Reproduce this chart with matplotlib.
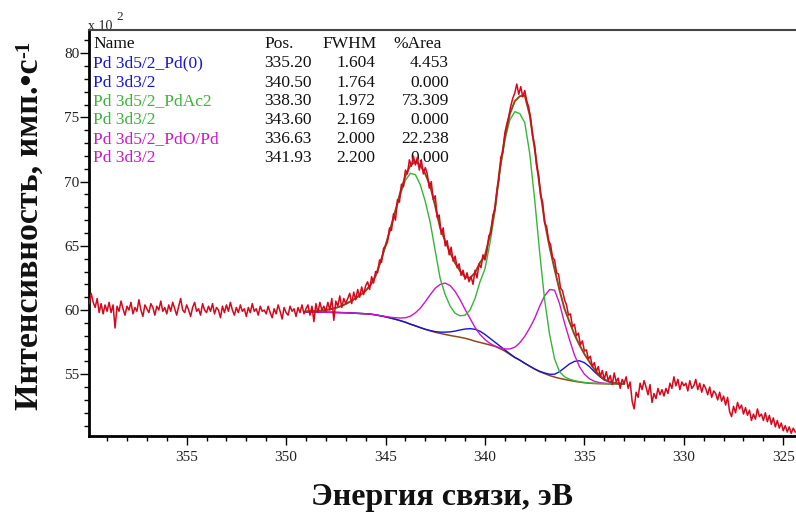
import numpy as np
import matplotlib
matplotlib.use("Agg")
import matplotlib.pyplot as plt
from matplotlib.ticker import MultipleLocator, FormatStrFormatter

plt.rcParams['font.family'] = ['Liberation Serif', 'DejaVu Serif']

# ---------------- data (intensity in units of 10^2 counts/s) ----------------
energy = np.round(np.linspace(359.9, 324.4, 356), 2)
counts = [
    60.5, 61.3, 60.6, 60.2, 60.9, 59.8, 60.5, 59.7, 60.4, 59.9,
    60.6, 59.8, 60.4, 58.6, 60.3, 59.9, 60.7, 60.1, 59.6, 60.3,
    60.0, 60.6, 59.7, 60.2, 59.9, 60.8, 60.0, 59.5, 60.4, 60.1,
    59.8, 60.5, 60.2, 59.6, 60.3, 60.0, 60.7, 59.9, 60.2, 59.7,
    60.4, 59.9, 60.6, 60.1, 59.6, 60.3, 60.9, 60.0, 59.8, 60.4,
    60.0, 59.5, 60.2, 60.6, 59.9, 60.1, 59.6, 60.5, 60.0, 59.8,
    60.3, 59.9, 60.5, 59.7, 60.2, 60.0, 59.4, 60.3, 59.8, 60.4,
    59.9, 60.6, 60.0, 59.6, 60.2, 59.8, 60.4, 59.9, 60.1, 59.5,
    60.2, 59.8, 60.5, 59.9, 60.1, 59.6, 60.3, 59.9, 60.0, 59.7,
    60.3, 59.8, 59.4, 60.1, 59.7, 60.4, 59.9, 59.3, 60.2, 59.8,
    59.6, 60.3, 59.9, 60.1, 59.5, 60.2, 59.8, 60.4, 59.7, 60.1,
    60.4, 59.6, 60.3, 59.1, 60.5, 59.8, 60.6, 60.0, 60.3, 59.9,
    60.6, 60.0, 60.9, 59.2, 60.7, 60.3, 61.1, 60.2, 60.9, 60.5,
    60.9, 61.3, 60.5, 61.4, 60.8, 61.6, 61.0, 61.8, 61.2, 61.9,
    62.2, 61.6, 62.6, 62.1, 63.0, 62.9, 63.9, 63.7, 64.8, 65.0,
    65.3, 66.4, 66.2, 67.5, 67.0, 68.6, 68.4, 69.8, 69.6, 70.9,
    70.6, 71.7, 71.2, 72.0, 71.3, 71.9, 70.9, 71.7, 70.6, 71.1,
    70.6, 69.5, 70.0, 68.6, 68.9, 67.2, 67.4, 65.9, 66.4, 65.0,
    65.4, 64.3, 64.9, 63.8, 64.2, 63.3, 63.6, 62.7, 63.1, 62.4,
    62.9, 62.2, 62.6, 62.0, 63.1, 62.5, 63.6, 63.3, 64.3, 63.9,
    64.6, 65.8, 66.0, 67.4, 67.8, 69.3, 70.2, 71.9, 72.3, 73.8,
    74.5, 75.1, 75.9, 76.5, 76.9, 77.6, 76.8, 77.4, 76.6, 77.1,
    76.3, 75.8, 74.9, 73.5, 72.8, 71.2, 70.5, 68.9, 68.4, 66.8,
    66.5, 65.4, 65.1, 64.1, 63.9, 62.9, 62.8, 61.7, 61.5, 60.8,
    60.4, 59.6, 59.7, 58.7, 58.9, 58.0, 58.2, 57.3, 57.6, 56.8,
    56.9, 56.2, 56.4, 55.6, 55.9, 55.2, 55.6, 54.8, 55.3, 54.6,
    55.2, 54.5, 54.9, 54.2, 55.1, 54.4, 54.7, 53.9, 54.6, 54.3,
    54.8, 53.9, 54.4, 52.9, 52.3, 53.6, 53.2, 54.3, 53.8, 54.5,
    54.0, 53.4, 54.2, 52.8, 53.5, 53.1, 53.9, 53.4, 53.8, 53.3,
    53.9, 53.5, 54.3, 53.9, 54.8, 54.1, 54.6, 53.8, 54.4, 54.1,
    54.3, 53.7, 54.5, 53.9, 54.1, 54.6, 53.8, 54.3, 53.6, 54.2,
    53.9, 53.4, 54.0, 53.2, 53.7, 53.5, 53.0, 53.6, 52.9, 53.3,
    52.6, 53.2, 52.1, 51.7, 52.5, 52.0, 52.8, 52.3, 52.6, 51.9,
    52.4, 51.8, 52.2, 51.4, 51.9, 51.5, 52.3, 51.7, 51.9, 51.4,
    52.0, 51.3, 51.8, 51.1, 51.6, 50.9, 51.4, 50.8, 51.2, 50.6,
    51.0, 50.5, 50.9, 50.4, 50.8, 50.5,
]

# fitted components (each including the background), 349 -> 333 eV
energy_fit = np.round(np.linspace(349.0, 333.0, 65), 2)
background = [
    59.85, 59.85, 59.85, 59.84, 59.83, 59.82, 59.81, 59.80, 59.79, 59.77,
    59.75, 59.73, 59.71, 59.68, 59.62, 59.55, 59.47, 59.38, 59.28, 59.17,
    59.05, 58.90, 58.77, 58.63, 58.50, 58.38, 58.27, 58.18, 58.10, 58.02,
    57.95, 57.88, 57.80, 57.70, 57.57, 57.48, 57.38, 57.28, 57.17, 57.00,
    56.80, 56.55, 56.30, 56.10, 55.85, 55.62, 55.40, 55.20, 55.05, 54.90,
    54.78, 54.68, 54.60, 54.52, 54.45, 54.39, 54.34, 54.30, 54.28, 54.27,
    54.26, 54.25, 54.25, 54.25, 54.25,
]
pd_ac2 = [
    59.90, 59.90, 59.92, 59.95, 60.00, 60.07, 60.17, 60.30, 60.47, 60.68,
    60.92, 61.20, 61.50, 61.95, 62.65, 63.75, 65.00, 66.30, 67.65, 69.00,
    70.10, 70.65, 70.55, 69.75, 68.45, 66.80, 64.60, 62.45, 61.20, 60.30,
    59.75, 59.55, 59.60, 60.00, 60.90, 62.20, 63.20, 65.20, 67.60, 70.80,
    73.20, 74.80, 75.45, 75.30, 74.60, 72.20, 68.60, 64.50, 60.80, 58.10,
    56.20, 55.20, 54.80, 54.62, 54.50, 54.42, 54.36, 54.32, 54.29, 54.28,
    54.27, 54.26, 54.25, 54.25, 54.25,
]
pdo_pd = [
    59.85, 59.85, 59.85, 59.84, 59.83, 59.82, 59.81, 59.80, 59.79, 59.77,
    59.75, 59.73, 59.71, 59.68, 59.63, 59.56, 59.50, 59.44, 59.40, 59.38,
    59.40, 59.52, 59.78, 60.15, 60.65, 61.20, 61.70, 62.00, 62.10, 61.90,
    61.45, 60.80, 60.05, 59.35, 58.65, 58.10, 57.70, 57.40, 57.20, 57.05,
    56.97, 56.97, 57.10, 57.45, 57.95, 58.60, 59.35, 60.30, 61.10, 61.60,
    61.55, 60.50, 59.00, 57.70, 56.50, 55.60, 55.00, 54.65, 54.45, 54.35,
    54.30, 54.27, 54.26, 54.25, 54.25,
]
pd0 = [
    59.85, 59.85, 59.85, 59.84, 59.83, 59.82, 59.81, 59.80, 59.79, 59.77,
    59.75, 59.73, 59.71, 59.68, 59.62, 59.55, 59.47, 59.38, 59.28, 59.17,
    59.05, 58.90, 58.77, 58.63, 58.50, 58.40, 58.32, 58.28, 58.28, 58.30,
    58.36, 58.45, 58.52, 58.55, 58.50, 58.35, 58.10, 57.80, 57.50, 57.20,
    56.90, 56.60, 56.32, 56.10, 55.86, 55.63, 55.41, 55.23, 55.10, 55.00,
    55.00, 55.20, 55.50, 55.80, 56.00, 56.05, 55.90, 55.60, 55.20, 54.85,
    54.55, 54.40, 54.32, 54.28, 54.26,
]

# fit table
names = ["Pd 3d5/2_Pd(0)", "Pd 3d3/2", "Pd 3d5/2_PdAc2", "Pd 3d3/2",
         "Pd 3d5/2_PdO/Pd", "Pd 3d3/2"]
positions = ["335.20", "340.50", "338.30", "343.60", "336.63", "341.93"]
fwhms = ["1.604", "1.764", "1.972", "2.169", "2.000", "2.200"]
areas = ["4.453", "0.000", "73.309", "0.000", "22.238", "0.000"]

c_blue = '#1414d8'
c_green = '#36b636'
c_mag = '#cc16cc'
c_red = '#d6081c'
c_brown = '#8b4a16'
row_colors = [c_blue, c_blue, c_green, c_green, c_mag, c_mag]

# ---------------- figure ----------------
W, H = 796, 516
fig = plt.figure(figsize=(W / 100, H / 100), dpi=100)
AX_L, AX_T, AX_B, AX_R = 89, 30, 436, 796
ax = fig.add_axes([AX_L / W, 1 - AX_B / H, (AX_R - AX_L) / W, (AX_B - AX_T) / H])


def axf(x, y):
    return ((x - AX_L) / (AX_R - AX_L), (AX_B - y) / (AX_B - AX_T))


bg = np.array(background)
envelope = np.array(pd_ac2) + np.array(pdo_pd) + np.array(pd0) - 2 * bg

ax.plot(energy_fit, bg, color=c_brown, lw=1.1, zorder=3)
ax.plot(energy_fit, pd0, color=c_blue, lw=1.0, zorder=3)
ax.plot(energy_fit, pdo_pd, color=c_mag, lw=1.0, zorder=3)
ax.plot(energy_fit, pd_ac2, color=c_green, lw=1.0, zorder=3)
ax.plot(energy_fit, envelope, color=c_brown, lw=1.4, zorder=3)
ax.plot(energy, counts, color=c_red, lw=1.1, zorder=4)

ax.set_xlim(359.91, 324.36)
ax.set_ylim(50.19, 81.81)

ax.xaxis.set_major_locator(MultipleLocator(5))
ax.xaxis.set_minor_locator(MultipleLocator(1))
ax.yaxis.set_major_locator(MultipleLocator(5))
ax.yaxis.set_minor_locator(MultipleLocator(1))
ax.xaxis.set_major_formatter(FormatStrFormatter('%d'))
ax.yaxis.set_major_formatter(FormatStrFormatter('%d'))

ax.tick_params(which='major', direction='out', length=6.5, width=1.0,
               labelsize=11, labelcolor='#222222', color='black')
ax.tick_params(which='minor', direction='out', length=3.6, width=1.0, color='black')
ax.tick_params(axis='x', which='both', pad=4)
ax.tick_params(axis='y', which='both', pad=0.5)

for s in ['left', 'bottom']:
    ax.spines[s].set_linewidth(2.0)
    ax.spines[s].set_color('black')
ax.spines['top'].set_linewidth(1.5)
ax.spines['top'].set_color('#444444')
ax.spines['right'].set_visible(False)

# x 10^2 multiplier
ax.text(*axf(88, 29.5), "x 10", transform=ax.transAxes, fontsize=10,
        ha='left', va='baseline', color='#222222', zorder=1)
ax.text(*axf(116, 20.5), "2", transform=ax.transAxes, fontsize=9.5,
        ha='left', va='baseline', color='#222222', zorder=1)

# fit table
fs = 12.5
ty = [44.3, 63.3, 82.7, 101.3, 120.3, 139.3, 158.0]
ax.text(*axf(93.3, ty[0]), "Name", transform=ax.transAxes, fontsize=fs,
        ha='left', va='center', color='#111111', zorder=1)
ax.text(*axf(264, ty[0]), "Pos.", transform=ax.transAxes, fontsize=fs,
        ha='left', va='center', color='#111111', zorder=1)
ax.text(*axf(322, ty[0]), "FWHM", transform=ax.transAxes, fontsize=fs,
        ha='left', va='center', color='#111111', zorder=1)
ax.text(*axf(393, ty[0]), "%Area", transform=ax.transAxes, fontsize=fs,
        ha='left', va='center', color='#111111', zorder=1)
for i in range(len(names)):
    y = ty[i + 1]
    ax.text(*axf(93.3, y), names[i], transform=ax.transAxes, fontsize=fs,
            ha='left', va='center', color=row_colors[i], zorder=1)
    ax.text(*axf(311.7, y), positions[i], transform=ax.transAxes, fontsize=fs,
            ha='right', va='center', color='#111111', zorder=1)
    ax.text(*axf(375.5, y), fwhms[i], transform=ax.transAxes, fontsize=fs,
            ha='right', va='center', color='#111111', zorder=1)
    ax.text(*axf(449, y), areas[i], transform=ax.transAxes, fontsize=fs,
            ha='right', va='center', color='#111111', zorder=1)

# axis labels
ylab = fig.text(29 / W, 1 - 410 / H, "Интенсивность, имп.•с", rotation=90,
                ha='center', va='bottom', fontsize=24.5, fontweight='bold',
                color='#111111')
fig.text(442 / W, 1 - 497 / H, "Энергия связи, эВ", ha='center', va='center',
         fontsize=23, fontweight='bold', color='#111111')

fig.canvas.draw()
bb = ylab.get_window_extent(fig.canvas.get_renderer())
fig.text((bb.x0 + 1) / W, (bb.y1 + 1) / H, "-1", rotation=90, ha='left',
         va='bottom', fontsize=15, fontweight='bold', color='#111111')

fig.savefig("out.png", dpi=100)
